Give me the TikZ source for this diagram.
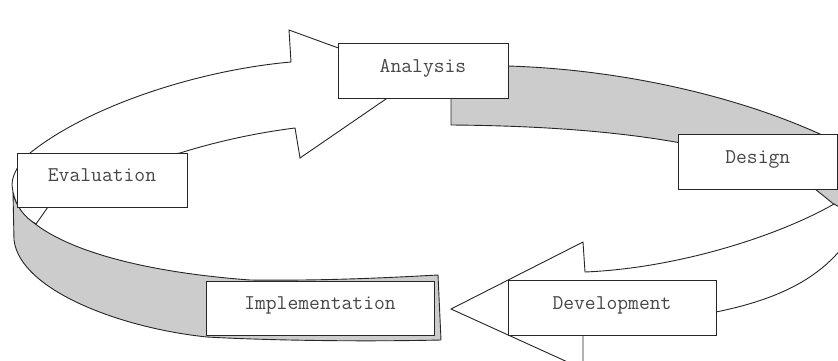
\documentclass[tikz,border=0pt]{standalone}
\begin{document}
\tikzset{
  stage/.style={draw=black!85, line width=0.9pt, fill=white, inner sep=0pt,
    font=\fontsize{21}{23}\selectfont\ttfamily, text=black!72,
    text height=11pt, text depth=8pt},
  ribbon/.style={draw=black!85, line width=0.9pt, line join=miter},
  front/.style={ribbon, fill=white},
  back/.style={ribbon, fill=black!20},
}
\begin{tikzpicture}[x=1pt,y=-1pt]
\clip (0,0) rectangle (838,360);

% rear part of the ribbon: Analysis -> Design
\draw[back] (451,70) -- (451,125)
  .. controls (590,126) and (740,140) .. (815,189) -- (846,214) -- (852,150)
  .. controls (770,105) and (640,70) .. (508,66) -- cycle;

% rear part of the ribbon: Implementation -> Evaluation
\draw[back] (13,192) .. controls (18,228) and (90,268) .. (250,280)
  .. controls (330,281) and (400,277) .. (438,275) -- (441,340)
  .. controls (350,342) and (260,340) .. (207,337)
  .. controls (120,328) and (20,290) .. (14,240) -- cycle;

% front arrow: Evaluation -> Analysis
\draw[front] (36,224) -- (48,207) .. controls (90,175) and (140,160) .. (180,153)
  .. controls (215,142) and (255,133) .. (295,128) -- (300,158) -- (418,77)
  -- (289,30) -- (291,62) .. controls (200,70) and (90,105) .. (30,153)
  .. controls (20,162) and (12,174) .. (12,185) -- (13,192)
  .. controls (16,206) and (24,217) .. (36,224) -- cycle;

% front arrow: Design -> Development -> Implementation
\draw[front] (834,204) .. controls (780,235) and (680,268) .. (585,272)
  -- (583,242) -- (451,309) -- (583,369) -- (583,332)
  .. controls (640,326) and (680,318) .. (716,312)
  .. controls (775,300) and (820,280) .. (848,240) -- (848,212) -- cycle;

% stage boxes
\node[stage, minimum width=170pt, minimum height=55pt] (ana) at (423,70.5) {Analysis};
\node[stage, minimum width=159.5pt, minimum height=55pt] (des) at (757.75,161.5) {Design};
\node[stage, minimum width=170pt, minimum height=54pt] (eva) at (102,180) {Evaluation};
\node[stage, minimum width=228pt, minimum height=54pt] (imp) at (320,308) {Implementation};
\node[stage, minimum width=208pt, minimum height=55pt] (dev) at (612,307.5) {Development};
\end{tikzpicture}
\end{document}
